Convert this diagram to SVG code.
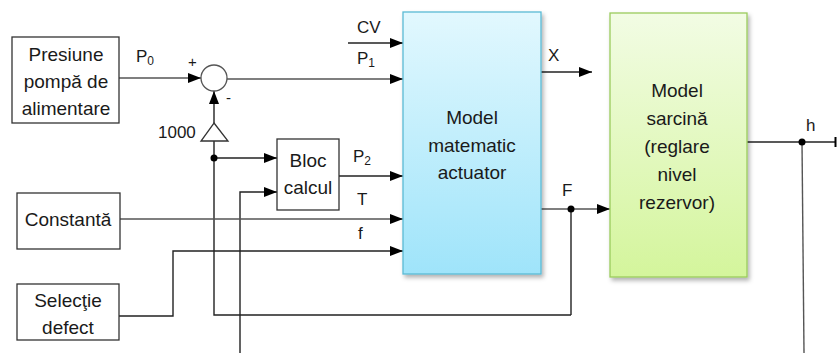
<svg xmlns="http://www.w3.org/2000/svg" width="837" height="353" viewBox="0 0 837 353">
<defs>
<marker id="arr" markerWidth="13" markerHeight="10" refX="13" refY="5" orient="auto" markerUnits="userSpaceOnUse">
<path d="M0,0 L13,5 L0,10 Z" fill="#000"/>
</marker>
<linearGradient id="gBlue" x1="0" y1="0" x2="0" y2="1">
<stop offset="0" stop-color="#e2f8fe"/>
<stop offset="1" stop-color="#9fe4fa"/>
</linearGradient>
<linearGradient id="gGreen" x1="0" y1="0" x2="0" y2="1">
<stop offset="0" stop-color="#f2fce4"/>
<stop offset="1" stop-color="#d4f59c"/>
</linearGradient>
<filter id="sh" x="-10%" y="-10%" width="130%" height="130%">
<feDropShadow dx="2" dy="3" stdDeviation="2" flood-color="#000" flood-opacity="0.3"/>
</filter>
</defs>
<style>
text{font-family:"Liberation Sans",Arial,sans-serif;fill:#1a1a1a;}
.t{font-size:19px;text-anchor:middle;}
.l{font-size:17px;}
.box{fill:#fff;stroke:#333;stroke-width:1.3;}
.w{fill:none;stroke:#222;stroke-width:1.4;}
.g{fill:none;stroke:#555;stroke-width:1.4;}
.a{marker-end:url(#arr);}
</style>
<rect width="837" height="353" fill="#fff"/>

<g id="connectors">
<line class="g a" x1="119" y1="78" x2="201" y2="78"/>
<line class="g a" x1="227" y1="79" x2="403" y2="79"/>
<line class="w a" x1="348" y1="43" x2="403" y2="43"/>
<line class="w a" x1="214" y1="123" x2="214" y2="91"/>
<polyline class="w" points="214,141 214,315 571,315"/>
<line class="w a" x1="214" y1="158" x2="277" y2="158"/>
<polyline class="w a" points="240,353 240,192 277,192"/>
<line class="w a" x1="339" y1="176" x2="403" y2="176"/>
<line class="g a" x1="120" y1="219" x2="403" y2="219"/>
<polyline class="w a" points="119,316 173,316 173,251 403,251"/>
<line class="w a" x1="541" y1="72" x2="592" y2="72"/>
<line class="g a" x1="541" y1="209" x2="610" y2="209"/>
<line class="w" x1="571" y1="209" x2="571" y2="315"/>
<circle cx="571" cy="209" r="3.5" fill="#000"/>
<circle cx="214" cy="158" r="3.5" fill="#000"/>
<line class="w" x1="747" y1="142" x2="836" y2="142"/>
<line x1="835.5" y1="137" x2="835.5" y2="147" stroke="#000" stroke-width="2"/>
<line class="g" x1="802" y1="142" x2="804" y2="353"/>
<circle cx="802" cy="142" r="3.5" fill="#000"/>
</g>

<g id="labels">
<text class="l" x="136" y="62">P<tspan font-size="12" dy="3">0</tspan></text>
<text x="188" y="67" font-size="15">+</text>
<text x="226" y="103" font-size="15">-</text>
<text x="357" y="33" class="l">CV</text>
<text x="357" y="64" class="l">P<tspan font-size="12" dy="3">1</tspan></text>
<text x="353" y="162" class="l">P<tspan font-size="12" dy="3">2</tspan></text>
<text x="357" y="205" class="l">T</text>
<text x="358" y="239" class="l">f</text>
<text x="548" y="61" class="l">X</text>
<text x="562" y="196" class="l">F</text>
<text x="806" y="131" class="l">h</text>
<text x="158" y="138" font-size="17">1000</text>
</g>

<g id="presiune">
<rect class="box" x="12" y="37" width="107" height="86"/>
<text class="t" x="66" y="61">Presiune</text>
<text class="t" x="66" y="88">pompă de</text>
<text class="t" x="66" y="115">alimentare</text>
</g>

<g id="sum">
<circle cx="214" cy="78" r="13" fill="#fff" stroke="#555" stroke-width="1.3"/>
</g>

<g id="gain">
<polygon points="214,123 228,141 201,141" fill="#fff" stroke="#333" stroke-width="1.3"/>
</g>

<g id="bloc">
<rect class="box" x="277" y="139" width="62" height="71"/>
<text class="t" x="308" y="167">Bloc</text>
<text class="t" x="308" y="194">calcul</text>
</g>

<g id="constanta">
<rect class="box" x="17" y="193" width="103" height="56"/>
<text class="t" x="68" y="226">Constantă</text>
</g>

<g id="selectie">
<rect class="box" x="17" y="284" width="102" height="56"/>
<text class="t" x="68" y="307">Selecţie</text>
<text class="t" x="68" y="334">defect</text>
</g>

<g id="actuator">
<rect x="403" y="12" width="138" height="262" fill="url(#gBlue)" stroke="#5bbad4" stroke-width="1.3" filter="url(#sh)"/>
<text class="t" x="472" y="124">Model</text>
<text class="t" x="472" y="152">matematic</text>
<text class="t" x="472" y="179">actuator</text>
</g>

<g id="sarcina">
<rect x="610" y="13" width="137" height="264" fill="url(#gGreen)" stroke="#9acb5c" stroke-width="1.3" filter="url(#sh)"/>
<text class="t" x="677" y="97">Model</text>
<text class="t" x="677" y="125">sarcină</text>
<text class="t" x="677" y="153">(reglare</text>
<text class="t" x="677" y="181">nivel</text>
<text class="t" x="677" y="209">rezervor)</text>
</g>
</svg>
